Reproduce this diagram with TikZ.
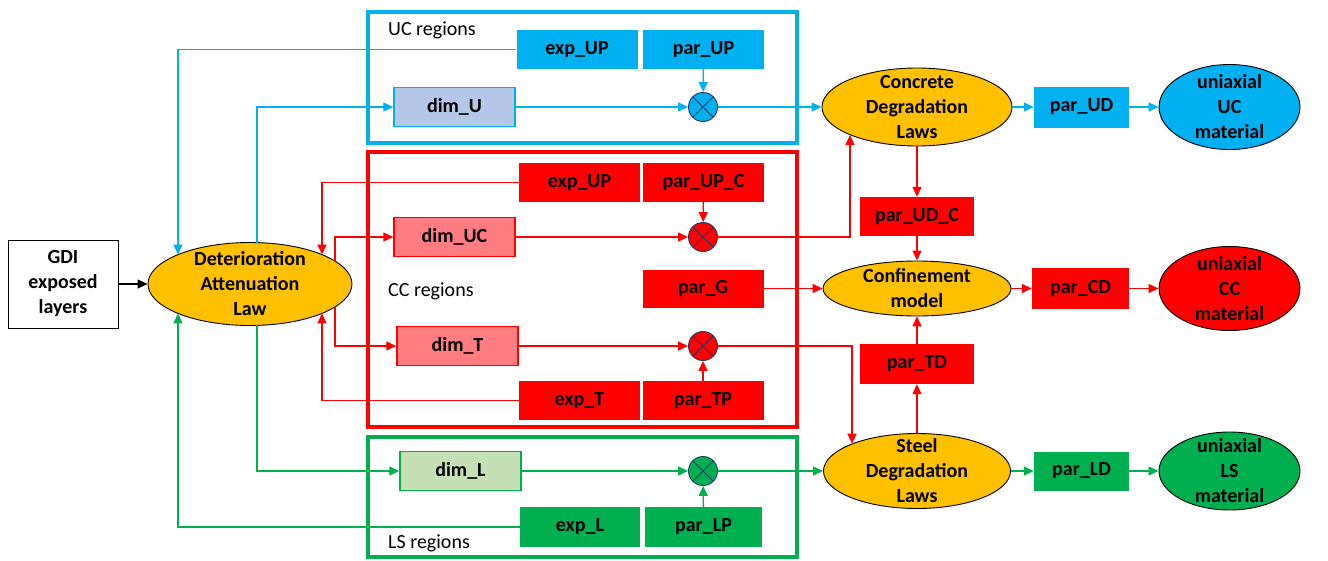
\documentclass[tikz,border=0pt]{standalone}
\usepackage{fontspec}
\setmainfont{Carlito}
\usetikzlibrary{shapes.geometric,arrows.meta,positioning}
\definecolor{ucblue}{HTML}{00B0F0}
\definecolor{ccred}{HTML}{FF0000}
\definecolor{lsgreen}{HTML}{00B050}
\definecolor{lawgold}{HTML}{FFC000}
\definecolor{dimblue}{HTML}{B4C7E7}
\definecolor{dimred}{HTML}{FF7C80}
\definecolor{dimgreen}{HTML}{C5E0B4}
\definecolor{xnavy}{HTML}{203864}
\tikzset{
  every node/.style={font=\fontsize{20}{25}\selectfont\bfseries, align=center, inner sep=0pt},
  parbox/.style={rectangle, minimum width=121pt, minimum height=39pt},
  dimbox/.style={parbox, draw, line width=1.5pt},
  law/.style={ellipse, draw=black, fill=lawgold, line width=0.9pt, inner ysep=-9pt},
  mat/.style={ellipse, draw=black, line width=0.9pt, inner ysep=-9pt, minimum width=141pt},
  mult/.style={circle, draw=xnavy, line width=0.9pt, minimum size=29pt,
    path picture={\draw[xnavy, line width=0.9pt]
      (path picture bounding box.north west) -- (path picture bounding box.south east)
      (path picture bounding box.north east) -- (path picture bounding box.south west);}},
  region/.style={line width=4pt},
  reglabel/.style={font=\fontsize{20}{25}\selectfont, anchor=west},
  link/.style={line width=1.4pt, -{Triangle[length=10pt,width=9pt]}}
}
\begin{document}
\begin{tikzpicture}[x=1pt,y=-1pt]
   \useasboundingbox (0,0) rectangle (1328,560);
   %% region frames
   \draw[region, ucblue] (368,12) rectangle (797,143);
   \draw[region, ccred] (368,152) rectangle (797,427);
   \draw[region, lsgreen] (368,437) rectangle (797,557);
   \node[reglabel] (UClab) at (388,30) {UC regions};
   \node[reglabel] (CClab) at (388,291) {CC regions};
   \node[reglabel] (LSlab) at (388,543) {LS regions};

   \node[rectangle, draw, line width=1pt, fill=white, minimum width=110pt, minimum height=88pt] (GDI) at (63,284) {GDI\\exposed\\layers};
   \node[law, minimum width=204pt, minimum height=83pt] (DAL) at (250,284) {Deterioration\\Attenuation\\Law};

   %% points on the border of DAL
   \coordinate (dalN) at (257,242.6);
   \coordinate (dalS) at (257,325.4);
   \coordinate (dalNW) at (178,254.6);
   \coordinate (dalSW) at (178,313.4);
   \coordinate (dalNE) at (322,254.6);
   \coordinate (dalSE) at (322,313.4);
   \coordinate (dalE1) at (335,261.1);
   \coordinate (dalE2) at (335,306.9);

   %% UC
   \node[parbox, fill=ucblue] (expUPu) at (577,49.5) {exp\_UP};
   \node[parbox, fill=ucblue] (parUP) at (703.5,49.5) {par\_UP};
   \node[dimbox, draw=ucblue, fill=dimblue] (dimU) at (454.5,107) {dim\_U};
   \node[mult, fill=ucblue] (mulU) at (703,107) {};

   %% CC
   \node[parbox, fill=ccred] (expUPc) at (579.5,182.5) {exp\_UP};
   \node[parbox, fill=ccred] (parUPC) at (703.5,182.5) {par\_UP\_C};
   \node[dimbox, draw=ccred, fill=dimred] (dimUC) at (454.5,237) {dim\_UC};
   \node[mult, fill=ccred] (mulUC) at (703,237) {};
   \node[parbox, fill=ccred, minimum height=38pt] (parG) at (703,288.5) {par\_G};
   \node[dimbox, draw=ccred, fill=dimred] (dimT) at (457.5,346) {dim\_T};
   \node[mult, fill=ccred] (mulT) at (703,346) {};
   \node[parbox, fill=ccred] (expT) at (579.5,400.5) {exp\_T};
   \node[parbox, fill=ccred] (parTP) at (703,400.5) {par\_TP};

   %% LS
   \node[dimbox, draw=lsgreen, fill=dimgreen] (dimL) at (460.5,471) {dim\_L};
   \node[mult, fill=lsgreen] (mulL) at (703,471) {};
   \node[parbox, fill=lsgreen, minimum width=120pt, minimum height=40pt] (expL) at (580,527) {exp\_L};
   \node[parbox, fill=lsgreen, minimum width=117pt, minimum height=40pt] (parLP) at (703.5,527) {par\_LP};

   %% laws and materials
   \node[law, minimum width=190pt, minimum height=78pt] (CDL) at (917,107) {Concrete\\Degradation\\Laws};
   \node[parbox, fill=ucblue, minimum width=95pt, minimum height=41pt] (parUD) at (1081.5,107) {par\_UD};
   \node[mat, fill=ucblue, minimum height=85pt] (UCmat) at (1229.5,107) {uniaxial\\UC\\material};
   \node[parbox, fill=ccred, minimum width=114pt] (parUDC) at (917,216.5) {par\_UD\_C};
   \node[law, minimum width=188pt, minimum height=55pt] (Conf) at (917,288.5) {Confinement\\model};
   \node[parbox, fill=ccred, minimum width=97pt, minimum height=41pt] (parCD) at (1080.5,288.5) {par\_CD};
   \node[mat, fill=ccred, minimum height=84pt] (CCmat) at (1229.5,288.5) {uniaxial\\CC\\material};
   \node[parbox, fill=ccred, minimum width=114pt, minimum height=40pt] (parTD) at (917,364) {par\_TD};
   \node[law, minimum width=187pt, minimum height=75pt] (Steel) at (917,471) {Steel\\Degradation\\Laws};
   \node[parbox, fill=lsgreen, minimum width=95pt] (parLD) at (1081.5,471) {par\_LD};
   \node[mat, fill=lsgreen, minimum height=78pt] (LSmat) at (1229.5,471) {uniaxial\\LS\\material};

   \coordinate (cdlS) at (850,135);
   \coordinate (steelN) at (852,443.7);

   \draw[link, black] (GDI) -- (DAL);

   %% blue links
   \draw[link, ucblue] (expUPu.west) -| (dalNW);
   \draw[link, ucblue] (dalN) |- (dimU.west);
   \foreach \a/\b in {parUP/mulU, dimU/mulU, mulU/CDL, CDL/parUD, parUD/UCmat}
      \draw[link, ucblue] (\a) -- (\b);

   %% red links
   \draw[link, ccred] (expUPc.west) -| (dalNE);
   \draw[link, ccred] (expT.west) -| (dalSE);
   \draw[link, ccred] (dalE1) |- (dimUC.west);
   \draw[link, ccred] (dalE2) |- (dimT.west);
   \draw[link, ccred] (mulUC.east) -| (cdlS);
   \draw[link, ccred] (mulT.east) -| (steelN);
   \foreach \a/\b in {parUPC/mulUC, dimUC/mulUC, dimT/mulT, parTP/mulT, CDL/parUDC, parUDC/Conf,
                      parG/Conf, Conf/parCD, parCD/CCmat, Steel/parTD, parTD/Conf}
      \draw[link, ccred] (\a) -- (\b);

   %% green links
   \draw[link, lsgreen] (dalS) |- (dimL.west);
   \draw[link, lsgreen] (expL.west) -| (dalSW);
   \foreach \a/\b in {parLP/mulL, dimL/mulL, mulL/Steel, Steel/parLD, parLD/LSmat}
      \draw[link, lsgreen] (\a) -- (\b);
\end{tikzpicture}
\end{document}
